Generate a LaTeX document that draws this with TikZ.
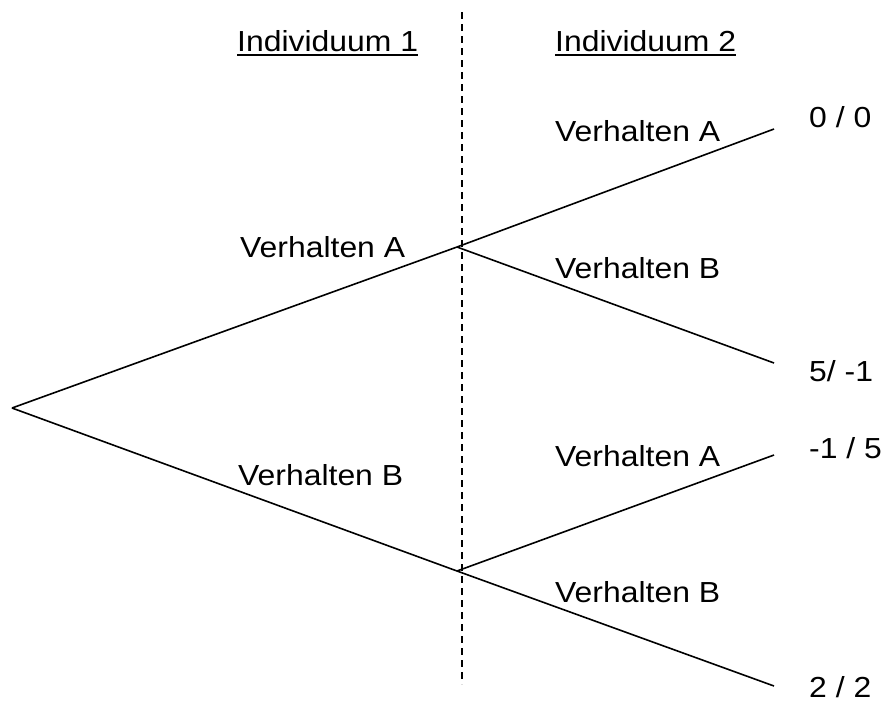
\documentclass[tikz,border=0pt]{standalone}
\usepackage{fontspec}
\setmainfont[FakeStretch=1.1]{Liberation Sans}
\begin{document}
\begin{tikzpicture}[x=1pt,y=-1pt,
  lbl/.style={anchor=base west,inner sep=0pt,font=\fontsize{29}{32}\selectfont},
  branch/.style={line width=1.6pt},
  divider/.style={line width=1.3pt,dash pattern=on 7pt off 5pt}]
\useasboundingbox (0,0) rectangle (882,702);
% tree points
\coordinate (root) at (12,408);
\coordinate (na) at (457,247);
\coordinate (nb) at (457,571);
\coordinate (aa) at (774,129);
\coordinate (ab) at (774,363);
\coordinate (ba) at (774,455);
\coordinate (bb) at (774,686);
\coordinate (dtop) at (462,12);
\coordinate (dbot) at (462,684);
% divider
\draw[divider] (dtop) -- (dbot);
% branches
\draw[branch] (root) -- (na);
\draw[branch] (root) -- (nb);
\draw[branch] (na) -- (aa);
\draw[branch] (na) -- (ab);
\draw[branch] (nb) -- (ba);
\draw[branch] (nb) -- (bb);
% headers
\node[lbl] (h1) at (237,51) {Individuum 1};
\node[lbl] (h2) at (555,51) {Individuum 2};
\draw[line width=2pt] ([yshift=-4pt]h1.base west) -- ([yshift=-4pt]h1.base east);
\draw[line width=2pt] ([yshift=-4pt]h2.base west) -- ([yshift=-4pt]h2.base east);
% branch labels
\node[lbl] (l1) at (240,257) {Verhalten A};
\node[lbl] (l2) at (238,485) {Verhalten B};
\node[lbl] (l3) at (555,141) {Verhalten A};
\node[lbl] (l4) at (555,278) {Verhalten B};
\node[lbl] (l5) at (555,466) {Verhalten A};
\node[lbl] (l6) at (555,602) {Verhalten B};
% payoffs
\node[lbl] (p1) at (809,127) {0 / 0};
\node[lbl] (p2) at (809,381) {5/ -1};
\node[lbl] (p3) at (809,458) {-1 / 5};
\node[lbl] (p4) at (809,697) {2 / 2};
\end{tikzpicture}
\end{document}
